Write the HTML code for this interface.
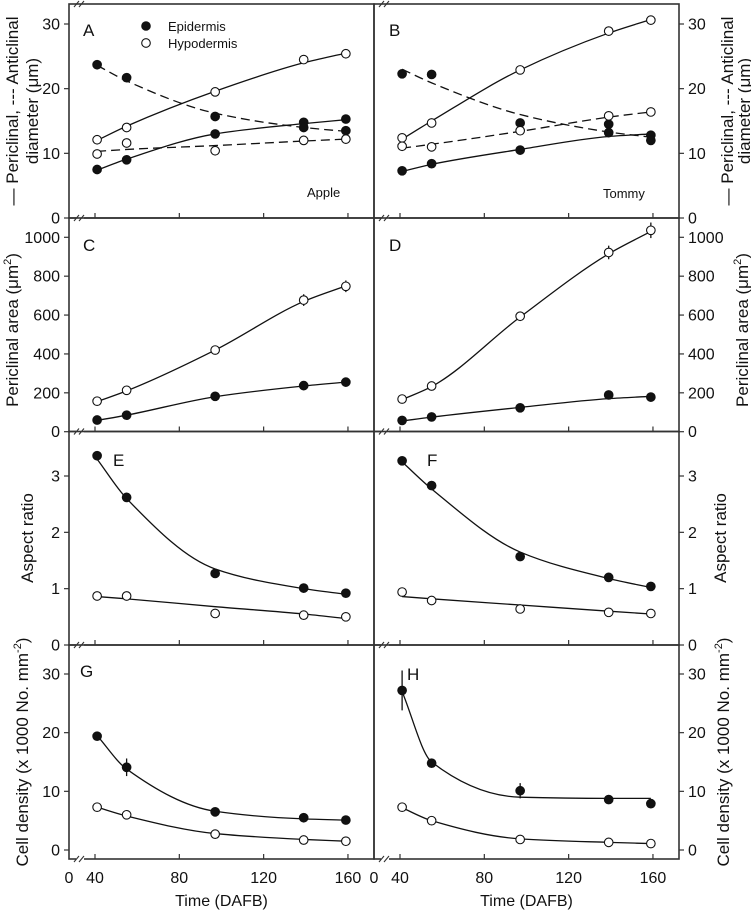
<!DOCTYPE html>
<html><head><meta charset="utf-8"><style>
body{margin:0;background:#fff;}
svg{display:block;font-family:"Liberation Sans",Arial,sans-serif;}
</style></head><body>
<svg id="chart" width="751" height="910" viewBox="0 0 751 910"></svg>
<script>
const times=[41,55,97,139,159];
const xTickLabels=[40,80,120,160];
// Panel A (Apple diameters)
const aEpiPeri=[7.5,9.0,13.0,14.8,15.3], aEpiPeriFit=[7.4,9.1,13.0,14.6,15.2];
const aHypPeri=[12.1,14.0,19.5,24.5,25.4], aHypPeriFit=[12.0,14.2,19.6,24.0,25.5];
const aEpiAnti=[23.7,21.7,15.7,14.0,13.5], aEpiAntiFit=[23.6,21.2,16.2,14.0,13.4];
const aHypAnti=[9.9,11.6,10.4,12.0,12.2], aHypAntiFit=[10.3,10.6,11.2,11.9,12.2];
// Panel B (Tommy diameters)
const bEpiPeri=[7.3,8.4,10.5,13.2,12.8], bEpiPeriFit=[7.2,8.3,10.6,12.6,13.0];
const bHypPeri=[12.4,14.7,22.9,28.9,30.6], bHypPeriFit=[12.2,15.0,22.9,28.6,30.7];
const bEpiAnti=[22.3,22.2,14.7,14.5,12.0], bEpiAntiFit=[23.0,20.9,16.0,13.3,12.5];
const bHypAnti=[11.1,11.0,13.5,15.8,16.4], bHypAntiFit=[10.8,11.4,13.4,15.6,16.4];
// Panel C/D (periclinal area)
const cEpi=[60,85,182,237,255], cEpiFit=[58,85,180,235,255];
const cHyp=[157,213,420,677,748], cHypFit=[155,210,420,670,750], cHypErr=[0,0,0,30,30];
const dEpi=[58,76,123,189,178], dEpiFit=[55,75,125,170,182];
const dHyp=[168,235,594,922,1036], dHypFit=[165,232,590,915,1030], dHypErr=[0,0,20,35,40];
// Panel E/F (aspect ratio)
const eEpi=[3.36,2.62,1.27,1.01,0.92], eEpiFit=[3.30,2.60,1.35,1.00,0.90];
const eHyp=[0.87,0.87,0.56,0.53,0.50], eHypFit=[0.86,0.82,0.68,0.55,0.47];
const fEpi=[3.27,2.83,1.57,1.20,1.04], fEpiFit=[3.25,2.77,1.65,1.18,1.02];
const fHyp=[0.94,0.79,0.64,0.58,0.56], fHypFit=[0.86,0.82,0.71,0.60,0.55];
// Panel G/H (cell density)
const gEpi=[19.4,14.1,6.5,5.5,5.1], gEpiFit=[19.5,13.8,6.6,5.3,5.1], gEpiErr=[0,1.5,0,0,0];
const gHyp=[7.3,6.0,2.7,1.7,1.5], gHypFit=[7.3,5.8,2.8,1.8,1.5];
const hEpi=[27.2,14.8,10.1,8.6,7.9], hEpiFit=[27.0,15.0,9.0,8.8,8.8], hEpiErr=[3.4,0,1.3,0.6,0.7];
const hHyp=[7.3,5.0,1.8,1.3,1.1], hHypFit=[7.2,5.0,1.9,1.3,1.1];

const NS="http://www.w3.org/2000/svg";
const svg=document.getElementById('chart');
function mk(tag,attrs,parent,name){const e=document.createElementNS(NS,tag);for(const k in attrs)e.setAttribute(k,attrs[k]);


(parent||svg).appendChild(e);return e;}
function txt(x,y,s,size,anchor,name,rot){const t=mk('text',{x:x,y:y,'font-size':size,'text-anchor':anchor||'middle',fill:'#111'},svg,name);
if(rot)t.setAttribute('transform','rotate(-90 '+x+' '+y+')');t.innerHTML=s;return t;}

const rows=[{top:4,bot:218,zero:218,max:30,maxPx:24,ticks:[0,10,20,30]},
{top:218,bot:431.5,zero:431.7,max:1000,maxPx:237.3,ticks:[0,200,400,600,800,1000]},
{top:431.5,bot:645,zero:645,max:3,maxPx:476,ticks:[0,1,2,3]},
{top:645,bot:859,zero:850,max:30,maxPx:674,ticks:[0,10,20,30]}];
const cols=[{x0:69,x1:374,right:false},{x0:374,x1:679,right:true}];
function xPx(c,t){return c.x0+26+(t-40)*2.108;}
function yPx(r,v){return r.zero-(v/r.max)*(r.zero-r.maxPx);}

function curve(c,r,fit,dash,name){
  const xs=times.map(t=>xPx(c,t)),ys=fit.map(v=>yPx(r,v)),n=xs.length;
  const d=[],m=new Array(n);
  for(let i=0;i<n-1;i++)d.push((ys[i+1]-ys[i])/(xs[i+1]-xs[i]));
  m[0]=d[0];m[n-1]=d[n-2];
  for(let i=1;i<n-1;i++){if(d[i-1]*d[i]<=0)m[i]=0;else{const h0=xs[i]-xs[i-1],h1=xs[i+1]-xs[i];const w1=2*h1+h0,w2=h1+2*h0;m[i]=(w1+w2)/(w1/d[i-1]+w2/d[i]);}}
  let p='M'+xs[0]+','+ys[0];
  for(let i=0;i<n-1;i++){const h=(xs[i+1]-xs[i])/3;
    p+=' C'+(xs[i]+h)+','+(ys[i]+m[i]*h)+' '+(xs[i+1]-h)+','+(ys[i+1]-m[i+1]*h)+' '+xs[i+1]+','+ys[i+1];}
  mk('path',{d:p,fill:'none',stroke:'#111','stroke-width':1.3,'stroke-dasharray':dash?'9,5':'none'},svg,name);
}
function pts(c,r,vals,filled,err,name){
  vals.forEach((v,i)=>{const x=xPx(c,times[i]),y=yPx(r,v);
    if(err&&err[i]){mk('line',{x1:x,x2:x,y1:yPx(r,v+err[i]),y2:yPx(r,v-err[i]),stroke:'#111','stroke-width':1.3},svg,name+'-error-bar');}
    mk('circle',{cx:x,cy:y,r:4.3,fill:filled?'#111':'#fff',stroke:'#111','stroke-width':1.1},svg,name+'-point');});
}
function series(c,r,vals,fit,filled,dash,err,name){curve(c,r,fit,dash,name+'-fit-line');pts(c,r,vals,filled,err,name);}

function frame(c,r,ri,ci){
  mk('rect',{x:c.x0,y:r.top,width:c.x1-c.x0,height:r.bot-r.top,fill:'none',stroke:'#333','stroke-width':1.6},svg,'panel-frame');
  xTickLabels.forEach(t=>{const x=xPx(c,t);mk('line',{x1:x,x2:x,y1:r.bot,y2:r.bot-5,stroke:'#333','stroke-width':1.2},svg,'x-tick');});
  const ax=c.right?c.x1:c.x0,dir=c.right?1:-1;
  r.ticks.forEach(v=>{const y=yPx(r,v);mk('line',{x1:ax,x2:ax+dir*5,y1:y,y2:y,stroke:'#333','stroke-width':1.2},svg,'y-tick');
    txt(c.right?ax+9:ax-9,y+5.5,String(v),16,c.right?'start':'end','y-tick-label');});
  const bx=c.x0+11;
  mk('rect',{x:bx-4,y:r.bot-2,width:8,height:4,fill:'#fff'},svg,'axis-break-gap');
  mk('path',{d:`M${bx-6},${r.bot+3} L${bx-1},${r.bot-3} M${bx-1},${r.bot+3} L${bx+4},${r.bot-3}`,stroke:'#333','stroke-width':1.1,fill:'none'},svg,'axis-break-mark');
}
rows.forEach((r,ri)=>cols.forEach((c,ci)=>frame(c,r,ri,ci)));
cols.forEach(c=>{const bx=c.x0+11;mk('path',{d:`M${bx-6},${7} L${bx-1},1 M${bx-1},7 L${bx+4},1`,stroke:'#333','stroke-width':1.1,fill:'none'},svg,'axis-break-mark');});

const L=cols[0],R=cols[1];
series(L,rows[0],aEpiPeri,aEpiPeriFit,true,false,null,'apple-epidermis-periclinal');
series(L,rows[0],aHypPeri,aHypPeriFit,false,false,null,'apple-hypodermis-periclinal');
series(L,rows[0],aEpiAnti,aEpiAntiFit,true,true,null,'apple-epidermis-anticlinal');
series(L,rows[0],aHypAnti,aHypAntiFit,false,true,null,'apple-hypodermis-anticlinal');
series(R,rows[0],bEpiPeri,bEpiPeriFit,true,false,null,'tommy-epidermis-periclinal');
series(R,rows[0],bHypPeri,bHypPeriFit,false,false,null,'tommy-hypodermis-periclinal');
series(R,rows[0],bEpiAnti,bEpiAntiFit,true,true,null,'tommy-epidermis-anticlinal');
series(R,rows[0],bHypAnti,bHypAntiFit,false,true,null,'tommy-hypodermis-anticlinal');
series(L,rows[1],cEpi,cEpiFit,true,false,null,'apple-epidermis-area');
series(L,rows[1],cHyp,cHypFit,false,false,cHypErr,'apple-hypodermis-area');
series(R,rows[1],dEpi,dEpiFit,true,false,null,'tommy-epidermis-area');
series(R,rows[1],dHyp,dHypFit,false,false,dHypErr,'tommy-hypodermis-area');
series(L,rows[2],eEpi,eEpiFit,true,false,null,'apple-epidermis-aspect');
series(L,rows[2],eHyp,eHypFit,false,false,null,'apple-hypodermis-aspect');
series(R,rows[2],fEpi,fEpiFit,true,false,null,'tommy-epidermis-aspect');
series(R,rows[2],fHyp,fHypFit,false,false,null,'tommy-hypodermis-aspect');
series(L,rows[3],gEpi,gEpiFit,true,false,gEpiErr,'apple-epidermis-density');
series(L,rows[3],gHyp,gHypFit,false,false,null,'apple-hypodermis-density');
series(R,rows[3],hEpi,hEpiFit,true,false,hEpiErr,'tommy-epidermis-density');
series(R,rows[3],hHyp,hHypFit,false,false,null,'tommy-hypodermis-density');

[['A',83,36],['B',389,36],['C',83,251],['D',389,251],['E',113,466],['F',427,466],['G',80,677],['H',407,680]].forEach(a=>txt(a[1],a[2],a[0],17,'start','panel-letter'));
txt(307,197,'Apple',13,'start','cultivar-label-apple');
txt(603,198,'Tommy',13,'start','cultivar-label-tommy');
mk('circle',{cx:146,cy:26,r:4.3,fill:'#111',stroke:'#111'},svg,'legend-epidermis-marker');
txt(168,31,'Epidermis',13,'start','legend-epidermis-label');
mk('circle',{cx:146,cy:43,r:4.3,fill:'#fff',stroke:'#111','stroke-width':1.1},svg,'legend-hypodermis-marker');
txt(168,48,'Hypodermis',13,'start','legend-hypodermis-label');
cols.forEach(c=>{txt(c.x0,883,'0',16,'middle','x-tick-label');xTickLabels.forEach(t=>txt(xPx(c,t),883,String(t),16,'middle','x-tick-label'));
txt((c.x0+c.x1)/2,906,'Time (DAFB)',16,'middle','x-axis-title');});
txt(18,111,'— Periclinal, --- Anticlinal',17,'middle','y-axis-title-a-line1',true);
txt(38,111,'diameter (μm)',17,'middle','y-axis-title-a-line2',true);
txt(18,330,'Periclinal area (μm<tspan dy="-7" font-size="11">2</tspan><tspan dy="7">)</tspan>',17,'middle','y-axis-title-c',true);
txt(33,538,'Aspect ratio',17,'middle','y-axis-title-e',true);
txt(28,752,'Cell density (x 1000 No. mm<tspan dy="-7" font-size="11">-2</tspan><tspan dy="7">)</tspan>',17,'middle','y-axis-title-g',true);
txt(733,111,'— Periclinal, --- Anticlinal',17,'middle','y-axis-title-b-line1',true);
txt(750,111,'diameter (μm)',17,'middle','y-axis-title-b-line2',true);
txt(748,330,'Periclinal area (μm<tspan dy="-7" font-size="11">2</tspan><tspan dy="7">)</tspan>',17,'middle','y-axis-title-d',true);
txt(726,538,'Aspect ratio',17,'middle','y-axis-title-f',true);
txt(729,752,'Cell density (x 1000 No. mm<tspan dy="-7" font-size="11">-2</tspan><tspan dy="7">)</tspan>',17,'middle','y-axis-title-h',true);
</script>
</body></html>
